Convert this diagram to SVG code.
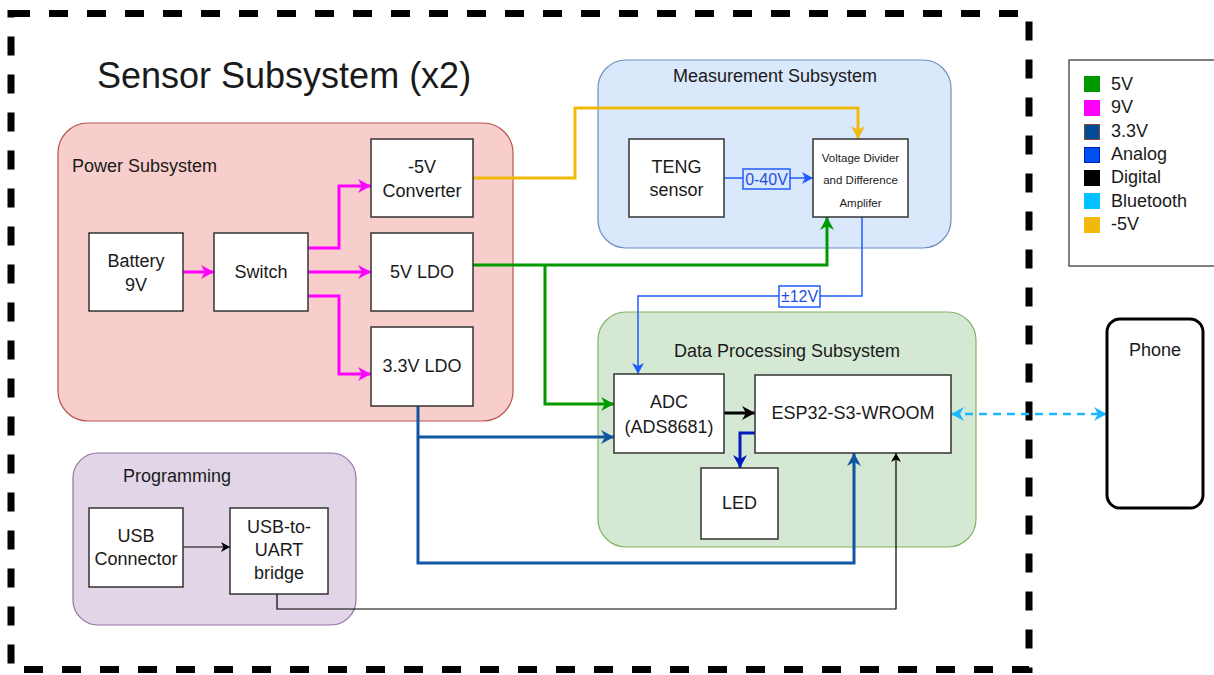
<svg xmlns="http://www.w3.org/2000/svg" width="1214" height="675" viewBox="0 0 1214 675">
<style>
text{font-family:"Liberation Sans",Arial,sans-serif;fill:#1a1a1a;font-size:18px}
.c{text-anchor:middle}
.box{fill:#fff;stroke:#333;stroke-width:1.5}
.w{fill:none;stroke-linejoin:miter}
.mag{stroke:#ff00ff;stroke-width:3}
.grn{stroke:#009900;stroke-width:3}
.org{stroke:#f0b90b;stroke-width:3}
.b33{stroke:#0f55a0;stroke-width:3}
.ana{stroke:#1f5cff;stroke-width:1.5}
.led{stroke:#001dbc;stroke-width:3}
.dig{stroke:#000;stroke-width:3}
.thin{stroke:#000;stroke-width:1.2}
.bt{stroke:#1cb8ff;stroke-width:2.5;stroke-dasharray:8 6}
</style>
<defs>
<marker id="aMag" markerUnits="userSpaceOnUse" markerWidth="14" markerHeight="14" refX="13" refY="7" orient="auto"><path d="M0,0 L13,7 L0,14 L4,7 z" fill="#ff00ff"/></marker>
<marker id="aGrn" markerUnits="userSpaceOnUse" markerWidth="14" markerHeight="14" refX="13" refY="7" orient="auto"><path d="M0,0 L13,7 L0,14 L4,7 z" fill="#009900"/></marker>
<marker id="aOrg" markerUnits="userSpaceOnUse" markerWidth="14" markerHeight="14" refX="13" refY="7" orient="auto"><path d="M0,0 L13,7 L0,14 L4,7 z" fill="#f0b90b"/></marker>
<marker id="aB33" markerUnits="userSpaceOnUse" markerWidth="14" markerHeight="14" refX="13" refY="7" orient="auto"><path d="M0,0 L13,7 L0,14 L4,7 z" fill="#0f55a0"/></marker>
<marker id="aAna" markerUnits="userSpaceOnUse" markerWidth="12" markerHeight="12" refX="11" refY="6" orient="auto"><path d="M0,0 L11,6 L0,12 L3,6 z" fill="#1f5cff"/></marker>
<marker id="aLed" markerUnits="userSpaceOnUse" markerWidth="14" markerHeight="14" refX="13" refY="7" orient="auto"><path d="M0,0 L13,7 L0,14 L4,7 z" fill="#001dbc"/></marker>
<marker id="aDig" markerUnits="userSpaceOnUse" markerWidth="14" markerHeight="14" refX="13" refY="7" orient="auto"><path d="M0,0 L13,7 L0,14 L4,7 z" fill="#000"/></marker>
<marker id="aThin" markerUnits="userSpaceOnUse" markerWidth="10" markerHeight="10" refX="9" refY="5" orient="auto"><path d="M0,0 L9,5 L0,10 L2.5,5 z" fill="#000"/></marker>
<marker id="aBt" markerUnits="userSpaceOnUse" markerWidth="14" markerHeight="14" refX="13" refY="7" orient="auto-start-reverse"><path d="M0,0 L13,7 L0,14 L4,7 z" fill="#1cb8ff"/></marker>
</defs>

<rect x="0" y="0" width="1214" height="675" fill="#fff"/>

<g id="sensor-subsystem">
<rect x="11" y="13.5" width="1018" height="656" fill="none" stroke="#000" stroke-width="7" stroke-dasharray="19 19"/>
<text x="97" y="88" style="font-size:36px">Sensor Subsystem (x2)</text>
</g>

<g id="power-subsystem">
<rect x="58" y="123" width="455" height="298" rx="30" fill="#f8cecc" stroke="#b85450" stroke-width="1.2"/>
<text x="72" y="172">Power Subsystem</text>
</g>
<g id="measurement-subsystem">
<rect x="598" y="60" width="353" height="188" rx="28" fill="#dae8fc" stroke="#6c8ebf" stroke-width="1.2"/>
<text class="c" x="775" y="82">Measurement Subsystem</text>
</g>
<g id="data-processing-subsystem">
<rect x="598" y="312" width="378" height="235" rx="28" fill="#d5e8d4" stroke="#82b366" stroke-width="1.2"/>
<text class="c" x="787" y="357">Data Processing Subsystem</text>
</g>
<g id="programming">
<rect x="73" y="453" width="283" height="172" rx="25" fill="#e1d5e7" stroke="#9673a6" stroke-width="1.2"/>
<text x="123" y="482">Programming</text>
</g>

<g id="connectors">
<path class="w mag" d="M183,272 L214,272" marker-end="url(#aMag)"/>
<path class="w mag" d="M308,272 L371,272" marker-end="url(#aMag)"/>
<path class="w mag" d="M308,248 L339,248 L339,186 L371,186" marker-end="url(#aMag)"/>
<path class="w mag" d="M308,296 L339,296 L339,374 L371,374" marker-end="url(#aMag)"/>
<path class="w org" d="M473,178 L575,178 L575,108 L858,108 L858,139" marker-end="url(#aOrg)"/>
<path class="w grn" d="M473,265 L827,265 L827,217" marker-end="url(#aGrn)"/>
<path class="w grn" d="M545,265 L545,404 L614,404" marker-end="url(#aGrn)"/>
<path class="w ana" d="M724,178 L813,178" marker-end="url(#aAna)"/>
<path class="w ana" d="M862,217 L862,296 L638,296 L638,374" marker-end="url(#aAna)"/>
<path class="w b33" d="M418,406 L418,563 L854,563 L854,453" marker-end="url(#aB33)"/>
<path class="w b33" d="M418,437 L614,437" marker-end="url(#aB33)"/>
<path class="w dig" d="M724,413 L755,413" marker-end="url(#aDig)"/>
<path class="w led" d="M755,433 L740,433 L740,468" marker-end="url(#aLed)"/>
<path class="w thin" d="M183,547 L230,547" marker-end="url(#aThin)"/>
<path class="w thin" d="M277,594 L277,609 L896,609 L896,453" marker-end="url(#aThin)"/>
<path class="w bt" d="M951,414 L1107,414" marker-start="url(#aBt)" marker-end="url(#aBt)"/>
<g id="label-0-40v">
<rect x="743" y="169" width="47" height="20" fill="#dae8fc" stroke="#1f5cff" stroke-width="1.5"/>
<text class="c" x="766.5" y="185" style="font-size:16px;fill:#1f4fe0">0-40V</text>
</g>
<g id="label-12v">
<rect x="779" y="286" width="41" height="21" fill="#fff" stroke="#1f5cff" stroke-width="1.5"/>
<text class="c" x="799.5" y="302" style="font-size:16px;fill:#1f4fe0">±12V</text>
</g>
</g>

<g id="neg5v-converter"><rect class="box" x="371" y="139" width="102" height="78"/><text class="c" x="422" y="173">-5V</text><text class="c" x="422" y="197">Converter</text></g>
<g id="battery"><rect class="box" x="89" y="233" width="94" height="78"/><text class="c" x="136" y="267">Battery</text><text class="c" x="136" y="291">9V</text></g>
<g id="switch"><rect class="box" x="214" y="233" width="94" height="78"/><text class="c" x="261" y="278">Switch</text></g>
<g id="ldo-5v"><rect class="box" x="371" y="233" width="102" height="78"/><text class="c" x="422" y="278">5V LDO</text></g>
<g id="ldo-33v"><rect class="box" x="371" y="327" width="102" height="79"/><text class="c" x="422" y="372">3.3V LDO</text></g>
<g id="teng-sensor"><rect class="box" x="629" y="139" width="95" height="78"/><text class="c" x="676.5" y="173">TENG</text><text class="c" x="676.5" y="196">sensor</text></g>
<g id="voltage-divider"><rect class="box" x="813" y="139" width="95" height="78"/><text class="c" x="860.5" y="162" style="font-size:11.5px">Voltage Divider</text><text class="c" x="860.5" y="184" style="font-size:11.5px">and Difference</text><text class="c" x="860.5" y="207" style="font-size:11.5px">Amplifer</text></g>
<g id="adc"><rect class="box" x="614" y="374" width="110" height="79"/><text class="c" x="669" y="408">ADC</text><text class="c" x="669" y="433">(ADS8681)</text></g>
<g id="esp32"><rect class="box" x="755" y="375" width="196" height="78"/><text class="c" x="853" y="419">ESP32-S3-WROOM</text></g>
<g id="led"><rect class="box" x="701" y="468" width="77" height="71"/><text class="c" x="739.5" y="509">LED</text></g>
<g id="usb-connector"><rect class="box" x="89" y="508" width="94" height="79"/><text class="c" x="136" y="542">USB</text><text class="c" x="136" y="565">Connector</text></g>
<g id="usb-uart"><rect class="box" x="230" y="508" width="98" height="86"/><text class="c" x="279" y="533">USB-to-</text><text class="c" x="279" y="556">UART</text><text class="c" x="279" y="579">bridge</text></g>
<g id="phone"><rect x="1107" y="319" width="96" height="189" rx="13" fill="#fff" stroke="#000" stroke-width="3"/><text class="c" x="1155" y="356">Phone</text></g>

<g id="legend">
<rect x="1069" y="60" width="160" height="206" fill="#fff" stroke="#555" stroke-width="1.5"/>
<rect x="1084" y="76" width="16" height="16" fill="#009900"/>
<text x="1111" y="90">5V</text>
<rect x="1084" y="100" width="16" height="16" fill="#ff00ff"/>
<text x="1111" y="113">9V</text>
<rect x="1084.5" y="124.5" width="15" height="15" fill="#004c99" stroke="#8b4a2b" stroke-width="1"/>
<text x="1111" y="137">3.3V</text>
<rect x="1084.5" y="147.5" width="15" height="15" fill="#0050ef" stroke="#001dbc" stroke-width="1"/>
<text x="1111" y="160">Analog</text>
<rect x="1084" y="170" width="16" height="16" fill="#000"/>
<text x="1111" y="183">Digital</text>
<rect x="1084" y="193" width="16" height="16" fill="#00c0ff"/>
<text x="1111" y="207">Bluetooth</text>
<rect x="1084" y="217" width="16" height="16" fill="#f0b90b"/>
<text x="1111" y="230">-5V</text>
</g>
</svg>
